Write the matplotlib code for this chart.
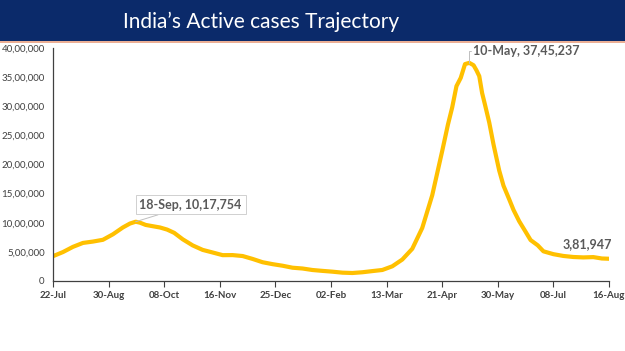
import pandas as pd
import matplotlib.pyplot as plt
from matplotlib.ticker import FuncFormatter

# Dados: casos ativos na Índia
datas = ["2020-07-22", "2020-07-29", "2020-08-05", "2020-08-12", "2020-08-19", "2020-08-26",
         "2020-09-02", "2020-09-09", "2020-09-14", "2020-09-18", "2020-09-21", "2020-09-25",
         "2020-09-30", "2020-10-05", "2020-10-10", "2020-10-15", "2020-10-21", "2020-10-28",
         "2020-11-04", "2020-11-11", "2020-11-18", "2020-11-25", "2020-12-02", "2020-12-09",
         "2020-12-16", "2020-12-23", "2020-12-30", "2021-01-06", "2021-01-13", "2021-01-20",
         "2021-01-27", "2021-02-03", "2021-02-10", "2021-02-17", "2021-02-24", "2021-03-03",
         "2021-03-10", "2021-03-17", "2021-03-24", "2021-03-31", "2021-04-07", "2021-04-14",
         "2021-04-21", "2021-04-25", "2021-04-28", "2021-05-01", "2021-05-04", "2021-05-07",
         "2021-05-10", "2021-05-13", "2021-05-15", "2021-05-17", "2021-05-19", "2021-05-21",
         "2021-05-24", "2021-05-27", "2021-05-31", "2021-06-03", "2021-06-07", "2021-06-10",
         "2021-06-14", "2021-06-18", "2021-06-22", "2021-06-27", "2021-07-01", "2021-07-08",
         "2021-07-15", "2021-07-22", "2021-07-29", "2021-08-05", "2021-08-11", "2021-08-16"]
casos_ativos = [426167, 496988, 586244, 653622, 676900, 707267,
                801282, 919018, 986598, 1017754, 1001360, 962640,
                940441, 919023, 883185, 826876, 715812, 610803,
                533787, 489294, 443794, 444746, 428644, 378909,
                322366, 289240, 262272, 228083, 214507, 188688,
                173740, 160057, 143127, 137342, 150055, 170126,
                189226, 252364, 368457, 552566, 910319, 1471877,
                2231269, 2682751, 2978709, 3345000, 3487229, 3723446,
                3745237, 3704099, 3618458, 3516997, 3226719, 3027925,
                2719823, 2343152, 1895520, 1635993, 1402188, 1221365,
                1026159, 865432, 702887, 612868, 509637, 460704,
                429946, 412153, 404958, 410353, 386351, 381947]

datas_ticks = ["2020-07-22", "2020-08-30", "2020-10-08", "2020-11-16", "2020-12-25", "2021-02-02",
               "2021-03-13", "2021-04-21", "2021-05-30", "2021-07-08", "2021-08-16"]
rotulos_x = ["22-Jul", "30-Aug", "08-Oct", "16-Nov", "25-Dec", "02-Feb",
             "13-Mar", "21-Apr", "30-May", "08-Jul", "16-Aug"]
valores_y = [0, 500000, 1000000, 1500000, 2000000, 2500000, 3000000, 3500000, 4000000]

# Destaques
pico1_data, pico1_valor, pico1_texto = "2020-09-18", 1017754, "18-Sep, 10,17,754"
pico2_data, pico2_valor, pico2_texto = "2021-05-10", 3745237, "10-May, 37,45,237"
ultimo_data, ultimo_valor, ultimo_texto = "2021-08-16", 381947, "3,81,947"


def formato_indiano(v, pos=None):
    # agrupamento indiano: 37,45,237
    n = int(round(v))
    s = str(n)
    if len(s) <= 3:
        return s
    resto, ultimos = s[:-3], s[-3:]
    grupos = []
    while len(resto) > 2:
        grupos.insert(0, resto[-2:])
        resto = resto[:-2]
    if resto:
        grupos.insert(0, resto)
    return ",".join(grupos) + "," + ultimos


plt.rcParams['font.family'] = ['Lato', 'DejaVu Sans']
cinza = "#404040"

fig = plt.figure(figsize=(6.25, 3.51), dpi=100)

# Faixa do título
banner = fig.add_axes([0, 1 - 41 / 351, 1, 41 / 351])
banner.set_facecolor("#0b2a6a")
banner.set_xticks([])
banner.set_yticks([])
for s in banner.spines.values():
    s.set_visible(False)
banner.text(0.418, 0.47, "India\u2019s Active cases Trajectory", color="white",
            fontsize=15, ha="center", va="center", transform=banner.transAxes)
fig.add_artist(plt.Line2D([0, 1], [1 - 42 / 351, 1 - 42 / 351], color="#e8a080", lw=1.2))

ax = fig.add_axes([53 / 625, 70 / 351, 556 / 625, 233 / 351])
x = pd.to_datetime(datas)
ax.plot(x, casos_ativos, color="#FFC000", lw=3, solid_capstyle="round", solid_joinstyle="round")

ax.set_xlim(pd.Timestamp(datas_ticks[0]), pd.Timestamp(datas_ticks[-1]))
ax.set_ylim(0, 4000000)
ax.set_xticks(pd.to_datetime(datas_ticks))
ax.set_xticklabels(rotulos_x, fontsize=7, fontweight="bold", color=cinza)
ax.set_yticks(valores_y)
ax.yaxis.set_major_formatter(FuncFormatter(formato_indiano))
ax.tick_params(axis="y", length=0, labelsize=7, labelcolor=cinza, pad=6)
ax.tick_params(axis="x", length=4, width=0.8, color=cinza, pad=3)

for lado in ["top", "right"]:
    ax.spines[lado].set_visible(False)
for lado in ["left", "bottom"]:
    ax.spines[lado].set_color(cinza)
    ax.spines[lado].set_linewidth(0.9)

# Anotações
ax.annotate(pico1_texto, xy=(pd.Timestamp(pico1_data), pico1_valor),
            xytext=(55, 17), textcoords="offset pixels", ha="center", va="center",
            fontsize=9, fontweight="bold", color="#595959",
            bbox=dict(boxstyle="square,pad=0.3", fc="white", ec="#d0d0d0", lw=0.7),
            arrowprops=dict(arrowstyle="-", color="#bfbfbf", lw=0.7, shrinkA=0, shrinkB=0))
ax.annotate(pico2_texto, xy=(pd.Timestamp(pico2_data), pico2_valor),
            xytext=(4, 12), textcoords="offset pixels", ha="left", va="center",
            fontsize=9, fontweight="bold", color="#595959", annotation_clip=False,
            arrowprops=dict(arrowstyle="-", color="#bfbfbf", lw=0.7, shrinkA=0, shrinkB=0,
                            connectionstyle="angle,angleA=0,angleB=90,rad=0"))
ax.annotate(ultimo_texto, xy=(pd.Timestamp(ultimo_data), ultimo_valor),
            xytext=(-22, 15), textcoords="offset pixels", ha="center", va="center",
            fontsize=9, fontweight="bold", color="#595959")

fig.savefig("out.png", dpi=100)
